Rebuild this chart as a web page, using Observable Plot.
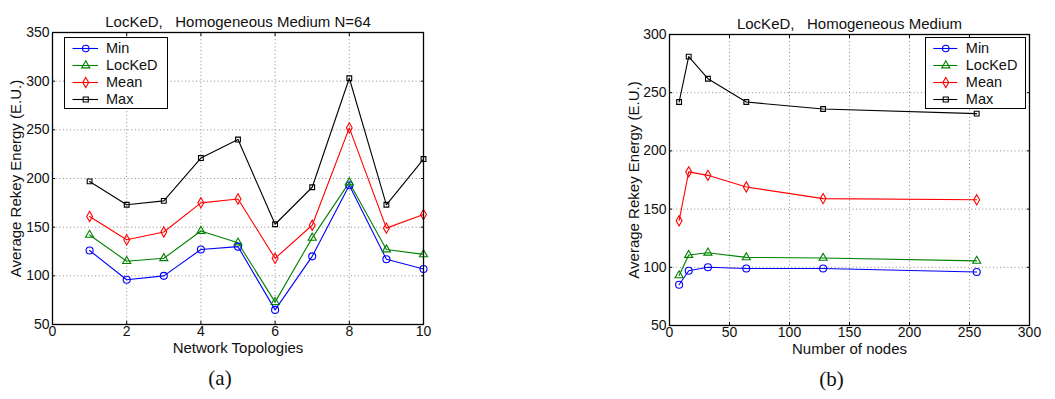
<!DOCTYPE html>
<html>
<head>
<meta charset="utf-8">
<script src="https://cdn.jsdelivr.net/npm/d3@7"></script>
<script src="https://cdn.jsdelivr.net/npm/@observablehq/plot@0.6"></script>
<style>
  html, body { margin: 0; padding: 0; background: #fff; }
  #root { position: relative; width: 1055px; height: 399px; overflow: hidden; background: #fff; }
  .abs { position: absolute; }
  .legend { position: absolute; border: 1.3px solid #000; box-sizing: border-box; background: #fff; }
</style>
</head>
<body>
<div id="root"></div>
<script>
// ---------- data ----------
const seriesNames = ["Min", "LocKeD", "Mean", "Max"];

// Panel (a): N = 64, ten network topologies
const topologies = [1, 2, 3, 4, 5, 6, 7, 8, 9, 10];
const minA    = [126, 96, 100, 127, 130, 65, 120, 193, 117, 107];
const lockedA = [142, 115, 118, 146, 134, 73, 139, 196, 127, 122];
const meanA   = [161, 137, 145, 175, 179, 118, 152, 252, 149, 163];
const maxA    = [197, 173, 177, 221, 240, 153, 191, 303, 173, 220];
const xTicksA = [0, 2, 4, 6, 8, 10];
const yTicksA = [50, 100, 150, 200, 250, 300, 350];

// Panel (b): number of nodes
const nodes   = [8, 16, 32, 64, 128, 256];
const minB    = [85, 97, 100, 99, 99, 96];
const lockedB = [93, 110.5, 112.5, 108.5, 108, 105.5];
const meanB   = [140, 182, 179, 169, 159, 158];
const maxB    = [242, 281, 262, 242, 236, 232];
const xTicksB = [0, 50, 100, 150, 200, 250, 300];
const yTicksB = [50, 100, 150, 200, 250, 300];

// ---------- styles ----------
const colors  = ["#0000ff", "#008000", "#ff0000", "#000000"];
const symbols = ["circle", "triangle", "diamond", "square"];
const markerR = {Min: 3.5, LocKeD: 3.0, Mean: 3.1, Max: 2.7};
const FONT = "'Liberation Sans', Arial, Helvetica, sans-serif";

function toRows(xs, seriesVals) {
  const rows = [];
  seriesNames.forEach((s, i) => xs.forEach((x, j) => rows.push({s, x, y: seriesVals[i][j], r: markerR[s]})));
  return rows;
}

function panel(o) {
  const rows = toRows(o.xs, o.vals);
  const grid = {stroke: "#8c8c8c", strokeOpacity: 1, strokeWidth: 1, strokeDasharray: "1,2.6"};
  const blank = () => "";
  return Plot.plot({
    width: o.width, height: 399,
    marginLeft: o.marginLeft, marginRight: o.marginRight, marginTop: o.marginTop, marginBottom: o.marginBottom,
    style: {fontFamily: FONT, fontSize: "14px", background: "transparent", overflow: "visible"},
    x: {domain: o.xDomain},
    y: {domain: o.yDomain},
    color: {domain: seriesNames, range: colors},
    symbol: {domain: seriesNames, range: symbols},
    r: {type: "identity"},
    marks: [
      Plot.gridX(o.xTicks, grid),
      Plot.gridY(o.yTicks, grid),
      Plot.line(rows, {x: "x", y: "y", z: "s", stroke: "s", strokeWidth: 1.1}),
      Plot.dot(rows, {x: "x", y: "y", stroke: "s", symbol: "s", r: "r", fill: "none", strokeWidth: 1.1}),
      Plot.axisY(o.yTicks, {anchor: "left", tickSize: 0, tickPadding: 3, fontSize: 14, label: null, fill: "#111"}),
      Plot.axisX(o.xTicks, {anchor: "bottom", tickSize: 0, tickPadding: 2, fontSize: 14, label: null, fill: "#111"}),
      Plot.axisY(o.yTicks, {anchor: "left", tickSize: -3, tickFormat: blank, label: null}),
      Plot.axisY(o.yTicks, {anchor: "right", tickSize: -3, tickFormat: blank, label: null}),
      Plot.axisX(o.xTicks, {anchor: "bottom", tickSize: -3, tickFormat: blank, label: null}),
      Plot.axisX(o.xTicks, {anchor: "top", tickSize: -3, tickFormat: blank, label: null}),
      Plot.frame({stroke: "#000", strokeWidth: 1.3}),
      Plot.text([o.title], {text: d => d, frameAnchor: "top", dy: -16, fontSize: 15, fill: "#111"}),
      Plot.text([o.xLabel], {text: d => d, frameAnchor: "bottom", dy: 28.5, fontSize: 15, fill: "#111"}),
      Plot.text([o.yLabel], {text: d => d, frameAnchor: "left", textAnchor: "middle", dx: o.yLabelDx, rotate: -90, fontSize: 15, fill: "#111"}),
      Plot.text([o.caption], {text: d => d, frameAnchor: "bottom", dy: 60, dx: -18, fontSize: 21, fill: "#111",
        fontFamily: "'Liberation Serif', 'DejaVu Serif', serif"})
    ]
  });
}

function legend(o) {
  return Plot.plot({
    width: o.width, height: o.height, margin: 0,
    style: {fontFamily: FONT, fontSize: "14px", background: "transparent", overflow: "visible"},
    x: {domain: [0, 1], range: o.lineRange, axis: null},
    y: {type: "point", domain: seriesNames, range: [9.5, 60.5], padding: 0, axis: null},
    color: {domain: seriesNames, range: colors},
    symbol: {domain: seriesNames, range: symbols},
    marks: [
      Plot.ruleY(seriesNames, {y: d => d, x1: 0, x2: 1, stroke: d => d, strokeWidth: 1.1}),
      Plot.dot(seriesNames, {x: 0.5, y: d => d, stroke: d => d, symbol: d => d, r: d => markerR[d] * o.markerScale, fill: "none", strokeWidth: 1.1}),
      Plot.text(seriesNames, {x: 1, y: d => d, text: d => d, dx: o.textDx, textAnchor: "start", fontSize: 14.5, fill: "#111"})
    ]
  });
}

const root = document.getElementById("root");
function place(el, left, top, cls) {
  const wrap = document.createElement("div");
  wrap.className = cls || "abs";
  wrap.style.left = left + "px";
  wrap.style.top = top + "px";
  wrap.appendChild(el);
  root.appendChild(wrap);
  return wrap;
}

const chartA = panel({
  xs: topologies, vals: [minA, lockedA, meanA, maxA],
  xDomain: [0, 10], yDomain: [50, 350], xTicks: xTicksA, yTicks: yTicksA,
  width: 440, marginLeft: 52, marginRight: 17, marginTop: 32, marginBottom: 75,
  title: "LocKeD,   Homogeneous Medium N=64",
  xLabel: "Network Topologies", yLabel: "Average Rekey Energy (E.U.)", yLabelDx: -36,
  caption: "(a)"
});
place(chartA, 0, 0);

const chartB = panel({
  xs: nodes, vals: [minB, lockedB, meanB, maxB],
  xDomain: [0, 300], yDomain: [50, 300], xTicks: xTicksB, yTicks: yTicksB,
  width: 449, marginLeft: 69, marginRight: 20, marginTop: 34, marginBottom: 74,
  title: "LocKeD,   Homogeneous Medium",
  xLabel: "Number of nodes", yLabel: "Average Rekey Energy (E.U.)", yLabelDx: -35,
  caption: "(b)"
});
place(chartB, 600, 0);

const legA = place(legend({width: 101, height: 70, lineRange: [7.5, 33], textDx: 7.5, markerScale: 1.1}), 64, 37, "legend");
legA.style.width = "104px"; legA.style.height = "72px";
const legB = place(legend({width: 98, height: 70, lineRange: [7.3, 31.3], textDx: 8, markerScale: 0.8}), 925, 37, "legend");
legB.style.width = "101px"; legB.style.height = "72px";
</script>
</body>
</html>
